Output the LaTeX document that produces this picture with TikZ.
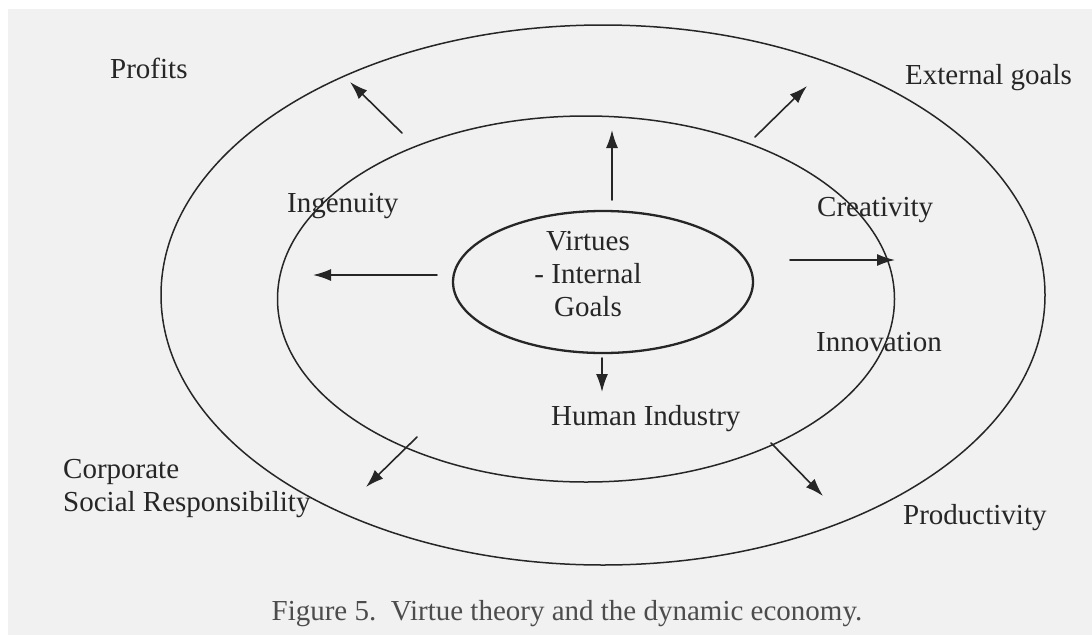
\documentclass[tikz,border=0pt]{standalone}
\usepackage{fontspec}
\setmainfont{Liberation Serif}
\usetikzlibrary{shapes.geometric,arrows.meta}
\definecolor{paper}{gray}{0.945}
\definecolor{ink}{gray}{0.15}
\begin{document}
\begin{tikzpicture}[x=1pt, y=-1pt, font=\fontsize{29}{33}\selectfont, line join=round, line cap=round, >={Latex[length=18pt,width=12pt]},
  ring/.style={draw=ink, ellipse, line width=1.5pt, inner sep=0pt},
  lbl/.style={text=ink, inner sep=0pt, anchor=base west}]
\useasboundingbox (0,0) rectangle (1092,635);
\fill[paper] (8,9) rectangle (1092,635);
% the three rings
\node[ring, minimum width=884pt, minimum height=540pt] (outer) at (603,295) {};
\node[ring, minimum width=617pt, minimum height=366pt] (middle) at (586,299) {};
\node[ring, line width=2.3pt, minimum width=300pt, minimum height=142pt] (core) at (603,282) {};
\node[lbl, anchor=base, align=center] (virtues) at (588,316) {Virtues\\- Internal\\Goals};
% labels
\node[lbl] (profits) at (110,78) {Profits};
\node[lbl] (external) at (905,84) {External goals};
\node[lbl] (ingenuity) at (287,212) {Ingenuity};
\node[lbl] (creativity) at (817,216) {Creativity};
\node[lbl] (innovation) at (816,351) {Innovation};
\node[lbl] (industry) at (551,425) {Human Industry};
\node[lbl] (productivity) at (903,524) {Productivity};
\node[lbl, align=left] (csr) at (63,511) {Corporate\\Social Responsibility};
\node[lbl, anchor=base, text=black!70] (caption) at (567,620) {Figure 5.\ \ Virtue theory and the dynamic economy.};
% arrows
\foreach \n/\s/\t in {up/{612,200}/{612,130}, profits/{402,133}/{350,82}, external/{755,137}/{807,86},
  left/{437,275}/{313,275}, right/{790,260}/{895,260}, down/{602,358}/{602,392},
  csr/{417,437}/{366,487}, productivity/{771,443}/{823,496}} {
  \coordinate (\n-s) at (\s);
  \coordinate (\n-t) at (\t);
  \draw[->, draw=ink, line width=1.6pt] (\n-s) -- (\n-t);
}
\end{tikzpicture}
\end{document}
